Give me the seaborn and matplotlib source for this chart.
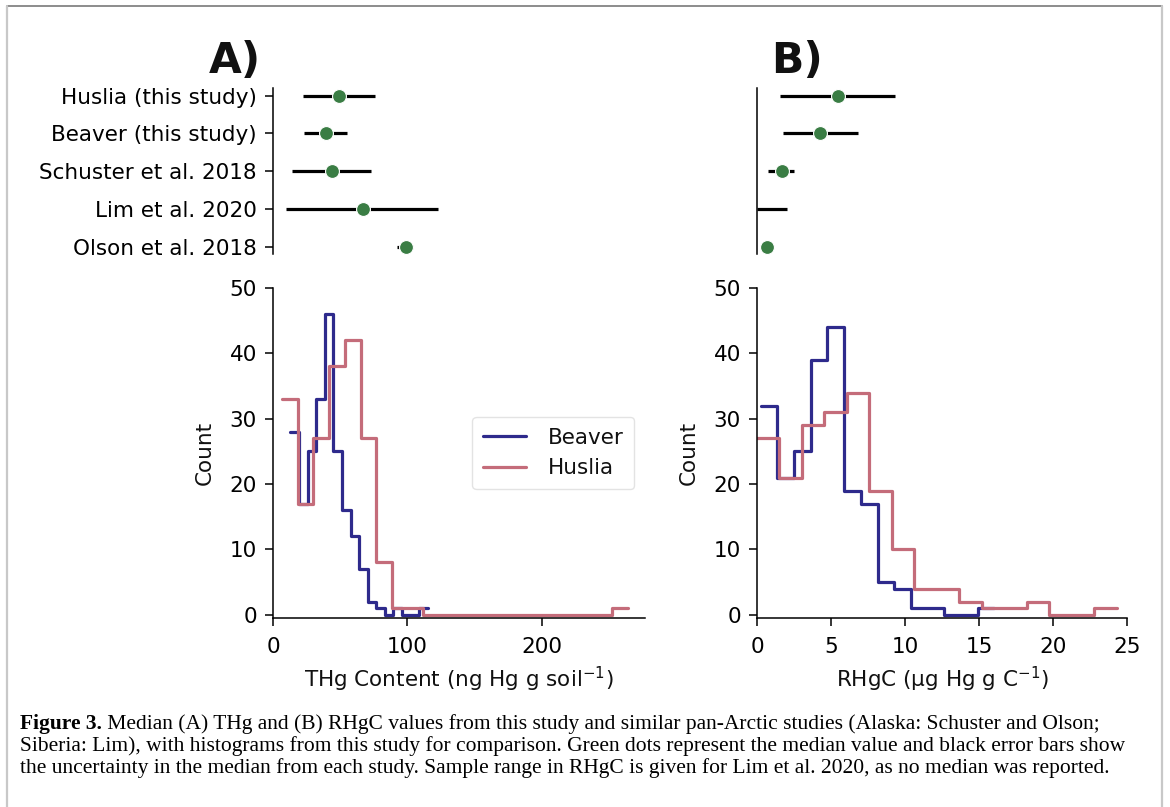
import numpy as np
import pandas as pd
import matplotlib
matplotlib.use("Agg")
import matplotlib.pyplot as plt
from matplotlib.lines import Line2D
import seaborn as sns

# ---------------- data ----------------
studies = ["Huslia (this study)", "Beaver (this study)", "Schuster et al. 2018",
           "Lim et al. 2020", "Olson et al. 2018"]

thg_median = [49.0, 39.5, 44.0, 67.0, 99.0]
thg_low = [22.4, 23.0, 14.0, 10.0, 92.5]
thg_high = [76.0, 55.0, 73.0, 123.0, 104.0]

rhgc_median = [5.5, 4.26, 1.7, np.nan, 0.68]
rhgc_low = [1.55, 1.76, 0.74, 0.0, 0.68]
rhgc_high = [9.3, 6.8, 2.5, 2.0, 0.68]

thg_beaver_start, thg_beaver_width = 13.0, 6.39
thg_beaver_counts = [28, 17, 25, 33, 46, 25, 16, 12, 7, 2, 1, 0, 1, 0, 0, 1]
thg_huslia_start, thg_huslia_width = 6.7, 11.7
thg_huslia_counts = [33, 17, 27, 38, 42, 27, 8, 1, 1, 0, 0, 0, 0, 0, 0, 0,
                     0, 0, 0, 0, 0, 1]

rhgc_beaver_start, rhgc_beaver_width = 0.25, 1.128
rhgc_beaver_counts = [32, 21, 25, 39, 44, 19, 17, 5, 4, 1, 1, 0, 0, 1]
rhgc_huslia_start, rhgc_huslia_width = 0.0, 1.52
rhgc_huslia_counts = [27, 21, 29, 31, 34, 19, 10, 4, 4, 2, 1, 1, 2, 0, 0, 1]

sites = ["Beaver", "Huslia"]
caption_lines = [
    ("Figure 3.", " Median (A) THg and (B) RHgC values from this study and similar pan-Arctic studies (Alaska: Schuster and Olson;"),
    ("", "Siberia: Lim), with histograms from this study for comparison. Green dots represent the median value and black error bars show"),
    ("", "the uncertainty in the median from each study. Sample range in RHgC is given for Lim et al. 2020, as no median was reported."),
]

# ---------------- style ----------------
sns.set_theme(style="ticks")
plt.rcParams["font.family"] = ["DejaVu Sans"]
FS = 15.5
plt.rcParams.update({
    "axes.linewidth": 1.1,
    "xtick.major.width": 1.1, "ytick.major.width": 1.1,
    "xtick.major.size": 5.5, "ytick.major.size": 5.5,
    "xtick.major.pad": 8, "ytick.major.pad": 6,
    "xtick.labelsize": FS, "ytick.labelsize": FS,
    "axes.labelsize": FS, "legend.fontsize": FS,
    "axes.edgecolor": "black", "xtick.color": "black", "ytick.color": "black",
    "text.color": "#111111", "axes.labelcolor": "#111111",
})

C_BEAVER = "#2e2a8c"
C_HUSLIA = "#c46c7a"
C_GREEN = "#3a7d44"

W, H = 1170, 807
fig = plt.figure(figsize=(W / 100, H / 100), dpi=100)
fig.patch.set_facecolor("white")


def px_axes(left, top, right, bottom):
    return fig.add_axes([left / W, 1 - bottom / H, (right - left) / W, (bottom - top) / H])


axA_top = px_axes(273, 88, 645, 254.5)
axB_top = px_axes(757, 88, 1127, 254.5)
axA = px_axes(273, 288, 645, 618)
axB = px_axes(757, 288, 1127, 618)

LW = 2.3


def hist(ax, start, width, counts, color, label):
    counts = np.asarray(counts, dtype=float)
    edges = start + width * np.arange(len(counts) + 1)
    df = pd.DataFrame({"value": (edges[:-1] + edges[1:]) / 2, "count": counts})
    sns.histplot(data=df, x="value", weights="count", bins=list(edges), element="step",
                 fill=False, color=color, lw=LW, ax=ax, label=label)


hist(axA, thg_beaver_start, thg_beaver_width, thg_beaver_counts, C_BEAVER, sites[0])
hist(axA, thg_huslia_start, thg_huslia_width, thg_huslia_counts, C_HUSLIA, sites[1])
hist(axB, rhgc_beaver_start, rhgc_beaver_width, rhgc_beaver_counts, C_BEAVER, sites[0])
hist(axB, rhgc_huslia_start, rhgc_huslia_width, rhgc_huslia_counts, C_HUSLIA, sites[1])

for ax, xlim, xt, xlabel in [
    (axA, (0, 277), [0, 100, 200], "THg Content (ng Hg g soil$^{-1}$)"),
    (axB, (0, 25), [0, 5, 10, 15, 20, 25], "RHgC (μg Hg g C$^{-1}$)"),
]:
    ax.set_xlim(*xlim)
    ax.set_ylim(-0.5, 50)
    ax.set_xticks(xt)
    ax.set_yticks([0, 10, 20, 30, 40, 50])
    ax.set_xlabel(xlabel, labelpad=6)
    ax.set_ylabel("Count", labelpad=11)
    sns.despine(ax=ax)

leg = axA.legend(loc="center right", frameon=True, fancybox=True, handlelength=2.0,
                 borderpad=0.5, labelspacing=0.5, handletextpad=1.0)
leg.get_frame().set_edgecolor("#dddddd")
leg.get_frame().set_linewidth(1.0)

# ---------------- medians panels ----------------
dfA = pd.DataFrame({"study": studies, "median": thg_median, "low": thg_low, "high": thg_high})
dfB = pd.DataFrame({"study": studies, "median": rhgc_median, "low": rhgc_low, "high": rhgc_high})

for ax, df, xlim in [(axA_top, dfA, (0, 277)), (axB_top, dfB, (0, 25))]:
    ax.hlines(y=df["study"], xmin=df["low"], xmax=df["high"], color="black", lw=LW, zorder=2)
    sns.scatterplot(data=df.dropna(subset=["median"]), x="median", y="study", color=C_GREEN,
                    s=100, edgecolor="white", linewidth=0.8, zorder=3, ax=ax, legend=False)
    ax.set_xlim(*xlim)
    ax.set_ylim(4.2, -0.2)
    ax.set_xlabel("")
    ax.set_ylabel("")
    ax.set_xticks([])
    for s in ["top", "right", "bottom"]:
        ax.spines[s].set_visible(False)

axB_top.set_yticks([])

fig.text(235 / W, 1 - 73 / H, "A)", fontsize=30.5, fontweight="bold", ha="center", va="baseline",
         color="#111111")
fig.text(797 / W, 1 - 73 / H, "B)", fontsize=30.5, fontweight="bold", ha="center", va="baseline",
         color="#111111")

# ---------------- caption ----------------
renderer = fig.canvas.get_renderer()
CFS = 15.45
x0 = 19.5
baselines = [728.5, 751, 773.5]
for (bold, rest), yb in zip(caption_lines, baselines):
    x = x0
    if bold:
        t = fig.text(x / W, 1 - yb / H, bold, fontsize=CFS, fontweight="bold",
                     family="Liberation Serif", ha="left", va="baseline", color="black")
        bb = t.get_window_extent(renderer=renderer)
        x = x + bb.width
    fig.text(x / W, 1 - yb / H, rest, fontsize=CFS, family="Liberation Serif",
             ha="left", va="baseline", color="black")

# ---------------- frame ----------------
fig.add_artist(Line2D([7 / W, 1162 / W], [1 - 6 / H, 1 - 6 / H], color="#8c8c8c", lw=1.4))
fig.add_artist(Line2D([7 / W, 7 / W], [1 - 6 / H, 0], color="#c8c8c8", lw=1.6))
fig.add_artist(Line2D([1162 / W, 1162 / W], [1 - 6 / H, 0], color="#c8c8c8", lw=1.6))

fig.savefig("out.png", dpi=100)
